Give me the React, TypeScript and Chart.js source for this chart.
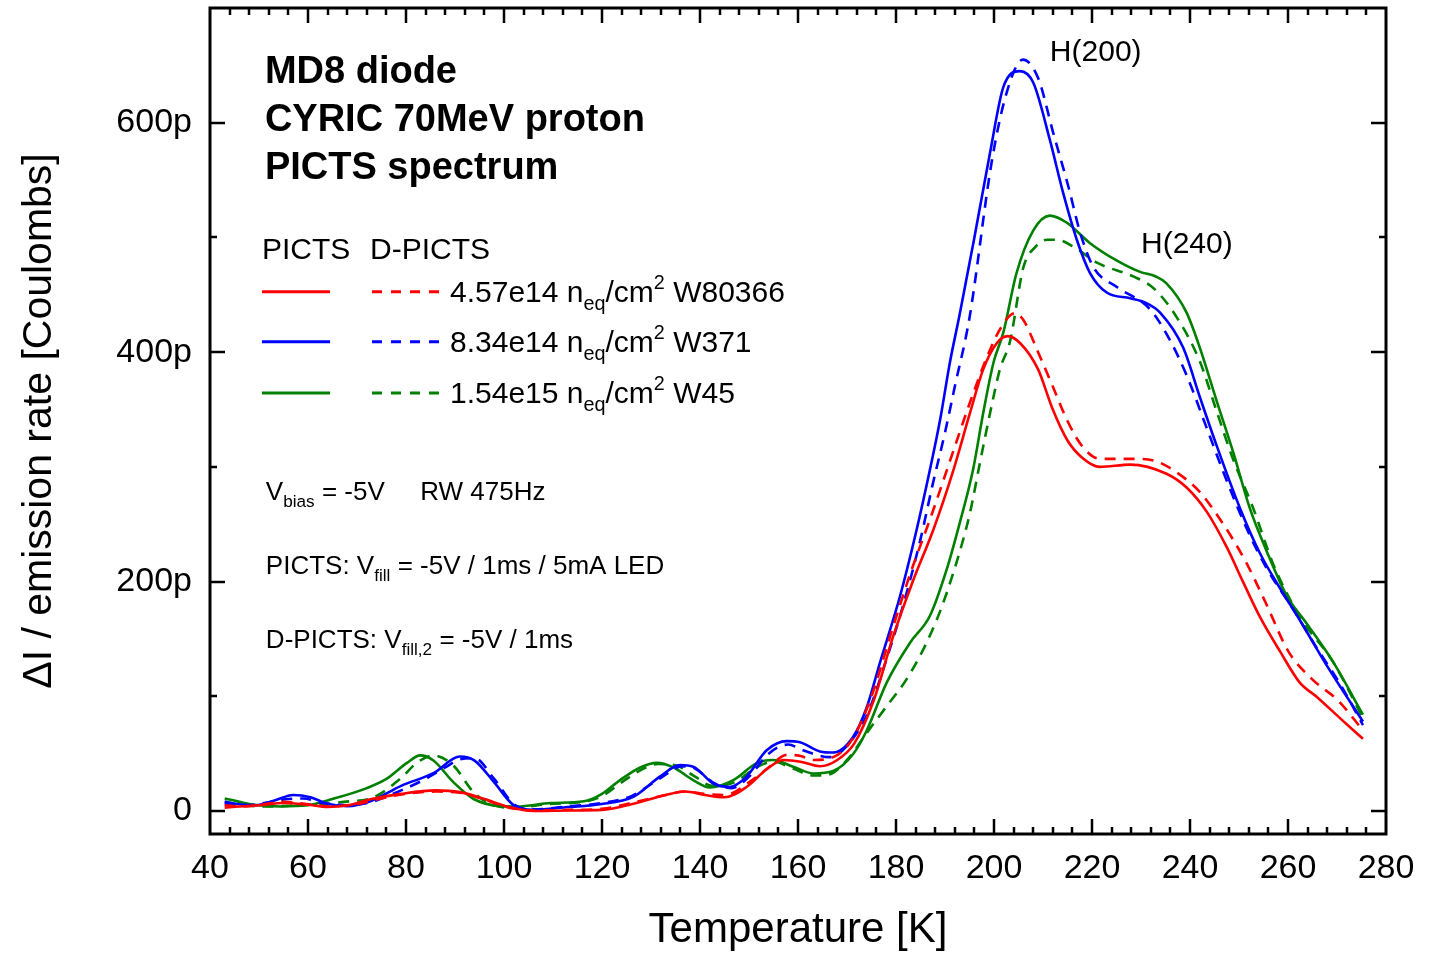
import React, { useEffect, useRef } from 'react';
import { Chart, registerables } from 'chart.js';

Chart.register(...registerables);

const FONT = '"Liberation Sans", Arial, Helvetica, sans-serif';

// ---- Data (temperature [K], signal [pC]) ----
const redSolidT = [43, 46, 50, 55, 60, 64, 68, 73, 79, 86, 91, 96, 101, 106, 113, 120, 126, 133, 137, 141, 145, 149.5, 153.5, 157, 160.5, 164.5, 168, 171.5, 175.5, 179.4, 183.5, 187.6, 191.7, 195.1, 197.8, 200.6, 202.8, 205.3, 209, 212, 215, 218, 221.6, 227.8, 235.2, 239.3, 243.4, 247.5, 250.8, 254.3, 258.4, 262.4, 265.9, 270.6, 275.3];
const redSolidV = [3, 4, 5, 7, 5.5, 3.5, 5, 10.5, 15, 18, 16.5, 10.5, 3.5, 0, 0.5, 1, 6, 14, 17, 14, 12, 21, 36, 44.5, 43, 39, 44.5, 59, 97, 152, 201, 245, 297, 347, 385, 408, 414, 408, 385, 350, 323, 308, 300, 302, 294, 282, 261, 230, 200, 169, 139, 112, 99.5, 81, 63];

const redDashT = [43, 47, 51, 55, 60, 65, 70, 75, 80, 86, 91, 96, 101, 106, 113, 120, 126, 133, 137, 141, 145, 151, 154, 157.7, 160.5, 163.1, 167.2, 171, 175, 179, 183, 187, 191, 195, 198.5, 201.5, 204.3, 206, 209, 212, 215, 218, 221.6, 228.4, 233, 237, 241.8, 246.5, 251.3, 255.4, 260.1, 264.9, 270.3, 275];
const redDashV = [5, 4, 6, 8, 6, 4, 6, 11, 15, 17, 16, 10, 3, 0.5, 1, 2, 7, 14, 17, 15, 14, 28, 38, 49, 48, 44.5, 47, 62, 100, 155, 208, 255, 305, 355, 395, 422, 434, 428, 400, 370, 340, 318, 307, 307, 305, 296, 279, 252, 218, 182, 139, 115, 96, 72];

const blueSolidT = [43, 46, 49, 53, 57, 60.5, 64, 68, 73, 79, 85.6, 91, 94, 98, 102, 106, 113, 119.6, 126.4, 131.8, 135.9, 138.6, 142.7, 146.1, 149.5, 153.6, 157.7, 160.4, 164.5, 167.2, 171.3, 174, 176.7, 180.8, 184.2, 186.9, 189, 191, 193, 196, 199.2, 201.9, 205.3, 208, 211.4, 214.1, 216.9, 219.6, 223, 227.8, 231, 233.9, 238.6, 242, 245.4, 250.2, 254.3, 258.4, 262.4, 267.9, 275.3];
const blueSolidV = [8, 6, 5, 9, 14, 12, 6.3, 4.3, 9, 22, 33, 47.5, 44, 25, 5, 1.2, 3.5, 6, 12.5, 30, 40, 38.7, 24, 21, 30, 53, 61, 60, 52, 51, 65, 90, 129, 187, 245, 297, 341, 391, 433, 500, 574, 631, 645, 635, 585, 539, 498, 469, 452, 447, 443, 434.5, 404, 361, 319, 264, 224.5, 194, 166.5, 127, 78];

const blueDashT = [43, 47, 51, 55, 59, 63, 68, 73, 79, 84, 88, 91, 94, 98, 102, 106, 113, 120, 126, 132, 136.5, 139, 143, 146.5, 150, 154, 158, 161, 166.5, 171, 174.5, 177.5, 181.5, 185, 187.5, 190, 192, 195, 199.5, 202.5, 205.9, 209, 212.1, 215.2, 217.6, 220.3, 225, 231.8, 235.2, 239.3, 243.4, 247.5, 251.6, 255.6, 261.1, 265.9, 270.6, 275.3];
const blueDashV = [6, 5, 7, 10, 11, 7, 5, 8, 18, 28, 38, 45, 46, 28, 6, 1.5, 4, 7, 13, 29, 39, 37, 24, 20, 30, 50, 58, 53, 47, 62, 88, 125, 180, 237, 285, 330, 370, 430, 565, 625, 655, 639, 591, 544, 504, 474, 457, 437.6, 416, 380, 334, 288, 246, 212, 175.6, 142, 111, 75];

const greenSolidT = [43, 46, 49, 54.4, 59.8, 65, 72, 76, 80.2, 82.9, 85.6, 89.7, 93.8, 99.3, 102.7, 109.5, 116.3, 120, 123.7, 127.8, 131.2, 134.6, 138.6, 142, 146.8, 151.5, 154.9, 159, 163.1, 167.2, 171.3, 174, 178.1, 182.9, 186.9, 190.3, 193, 195.7, 197.8, 199.9, 201.9, 204.6, 208, 211.4, 214.8, 219.6, 225, 229.8, 233, 235.2, 239.3, 242, 245.4, 248.8, 252.2, 255.6, 259.7, 263.8, 269.2, 275.3];
const greenSolidV = [11, 8, 5.5, 4, 5, 10.5, 20, 28, 42, 48.5, 44, 25, 10.5, 4.3, 4, 7, 8.5, 15, 27, 38, 42, 38, 27, 20.6, 27, 41.6, 44.5, 38.7, 32.8, 35, 50, 70, 112, 147, 170, 210, 251, 297, 347, 391, 417, 469, 506, 519, 513, 495, 480, 470, 466, 460, 434.5, 404, 358, 313, 264, 227, 188, 163.5, 130, 84];

const greenDashT = [43, 47, 52, 58, 63, 67.3, 73.4, 78.8, 82.2, 85.6, 89.7, 93.8, 97.9, 102, 109, 116, 120, 124, 128, 131.5, 135, 139, 142.5, 147, 151.5, 155, 159, 163, 165.9, 170, 174, 177.5, 182.9, 188.3, 192.3, 195.1, 197.1, 199.2, 201.2, 203.3, 206, 208.5, 210.8, 212.8, 216.2, 221, 228.4, 232.5, 237.2, 242, 245.4, 248.8, 252.9, 257, 262.4, 269.2, 275.3];
const greenDashV = [8, 5, 4, 5, 6, 8, 12, 28, 42, 48.5, 39.5, 16.5, 5, 3, 6, 8, 13, 25, 36, 41, 40, 30, 22, 25, 38, 43, 37, 31, 31.4, 44.5, 68, 88, 120, 166.6, 216, 260, 303, 347, 385, 410, 474, 492, 498, 498, 492, 478, 466, 456, 431, 392, 349, 306.6, 264, 215, 169.5, 130, 81];

// ---- Axis ticks ----
const xTickValues = [40, 60, 80, 100, 120, 140, 160, 180, 200, 220, 240, 260, 280];
const yTickValues = [0, 200, 400, 600];
const yTickLabels = ['0', '200p', '400p', '600p'];

// ---- Legend / annotation text ----
const seriesColors = ['#ff0000', '#0000ff', '#008000'];
const legendFluences = ['4.57e14', '8.34e14', '1.54e15'];
const legendWafers = ['W80366', 'W371', 'W45'];
const legendRowValues = [452.6, 409, 364.5];
const titleLines = ['MD8 diode', 'CYRIC 70MeV proton', 'PICTS spectrum'];
const titleLineValues = [645.3, 603.5, 561.6];

type Part = [string, 'n' | 'sub' | 'sup'];

function drawRich(ctx: CanvasRenderingContext2D, x: number, y: number, parts: Part[], size: number, bold = false, subScale = 0.66) {
  let cx = x;
  const yc = y + 2;
  ctx.textBaseline = 'middle';
  ctx.textAlign = 'left';
  for (const [txt, kind] of parts) {
    const s = kind === 'n' ? size : size * subScale;
    ctx.font = `${bold ? 'bold ' : ''}${s}px ${FONT}`;
    let yy = yc;
    if (kind === 'sub') yy = yc + size * 0.36;
    if (kind === 'sup') yy = yc - size * 0.33;
    ctx.fillText(txt, cx, yy);
    cx += ctx.measureText(txt).width;
  }
  return cx;
}

const framePlugin = {
  id: 'framePlugin',
  afterDraw(chart: any) {
    const { ctx, chartArea: a, scales } = chart;
    const xs = scales.x;
    const ys = scales.y;
    ctx.save();
    ctx.strokeStyle = '#000';
    ctx.lineWidth = 3;
    ctx.strokeRect(a.left, a.top, a.right - a.left, a.bottom - a.top);
    ctx.lineWidth = 2.5;
    ctx.beginPath();
    for (let t = 44; t < 280; t += 4) {
      const px = Math.round(xs.getPixelForValue(t));
      const len = t % 20 === 0 ? 15 : 7;
      ctx.moveTo(px, a.bottom);
      ctx.lineTo(px, a.bottom - len);
      ctx.moveTo(px, a.top);
      ctx.lineTo(px, a.top + len);
    }
    for (let v = 0; v <= 600; v += 100) {
      const py = Math.round(ys.getPixelForValue(v));
      const len = v % 200 === 0 ? 15 : 7;
      ctx.moveTo(a.left, py);
      ctx.lineTo(a.left + len, py);
      ctx.moveTo(a.right, py);
      ctx.lineTo(a.right - len, py);
    }
    ctx.stroke();

    const X = (t: number) => xs.getPixelForValue(t);
    const Y = (v: number) => ys.getPixelForValue(v);
    ctx.fillStyle = '#000';

    // Title block
    titleLines.forEach((line, i) => {
      drawRich(ctx, X(51.2), Y(titleLineValues[i]), [[line, 'n']], 38, true);
    });

    // Legend header
    drawRich(ctx, X(50.6), Y(490.1), [['PICTS', 'n']], 30);
    drawRich(ctx, X(72.65), Y(490.1), [['D-PICTS', 'n']], 30);

    // Legend rows
    legendFluences.forEach((fl, i) => {
      const yy = Y(legendRowValues[i]);
      ctx.strokeStyle = seriesColors[i];
      ctx.lineWidth = 3;
      ctx.setLineDash([]);
      ctx.beginPath();
      ctx.moveTo(X(50.6), yy);
      ctx.lineTo(X(64.5), yy);
      ctx.stroke();
      ctx.setLineDash([10, 9]);
      ctx.beginPath();
      ctx.moveTo(X(73.06), yy);
      ctx.lineTo(X(87.35), yy);
      ctx.stroke();
      ctx.setLineDash([]);
      ctx.fillStyle = '#000';
      drawRich(ctx, X(88.98), yy, [[fl + ' n', 'n'], ['eq', 'sub'], ['/cm', 'n'], ['2', 'sup'], [' ' + legendWafers[i], 'n']], 30);
    });

    // Measurement conditions
    drawRich(ctx, X(51.4), Y(279), [['V', 'n'], ['bias', 'sub'], [' = -5V', 'n']], 26);
    drawRich(ctx, X(82.9), Y(279), [['RW 475Hz', 'n']], 26);
    drawRich(ctx, X(51.4), Y(214.5), [['PICTS: V', 'n'], ['fill', 'sub'], [' = -5V / 1ms / 5mA LED', 'n']], 26);
    drawRich(ctx, X(51.4), Y(150), [['D-PICTS: V', 'n'], ['fill,2', 'sub'], [' = -5V / 1ms', 'n']], 26);

    // Peak labels
    drawRich(ctx, X(211.4), Y(662.8), [['H(200)', 'n']], 30);
    drawRich(ctx, X(230.0), Y(495.8), [['H(240)', 'n']], 30);
    ctx.restore();
  },
};

const toPts = (t: number[], v: number[]) => t.map((x, i) => ({ x, y: v[i] }));

function makeSet(t: number[], v: number[], color: string, dashed: boolean) {
  return {
    data: toPts(t, v),
    borderColor: color,
    backgroundColor: color,
    borderWidth: 2.6,
    borderDash: dashed ? [11, 8] : [],
    pointRadius: 0,
    fill: false,
    cubicInterpolationMode: 'monotone' as const,
  };
}

const zeroPad = (s: any) => {
  s.paddingTop = 0;
  s.paddingBottom = 0;
  s.paddingLeft = 0;
  s.paddingRight = 0;
};

export default function App() {
  const ref = useRef<HTMLCanvasElement | null>(null);
  useEffect(() => {
    if (!ref.current) return;
    const chart = new Chart(ref.current, {
      type: 'line',
      data: {
        datasets: [
          makeSet(redSolidT, redSolidV, seriesColors[0], false),
          makeSet(redDashT, redDashV, seriesColors[0], true),
          makeSet(blueSolidT, blueSolidV, seriesColors[1], false),
          makeSet(blueDashT, blueDashV, seriesColors[1], true),
          makeSet(greenSolidT, greenSolidV, seriesColors[2], false),
          makeSet(greenDashT, greenDashV, seriesColors[2], true),
        ],
      },
      options: {
        animation: false,
        responsive: false,
        devicePixelRatio: 1,
        layout: { padding: { top: 8, right: 49, left: 0, bottom: 0 } },
        plugins: { legend: { display: false }, tooltip: { enabled: false } },
        scales: {
          x: {
            type: 'linear',
            min: 40,
            max: 280,
            grid: { display: false, drawTicks: false },
            border: { display: false },
            afterBuildTicks: (s: any) => {
              s.ticks = xTickValues.map((v) => ({ value: v }));
            },
            afterFit: (s: any) => {
              s.height = 122;
              zeroPad(s);
            },
            ticks: { font: { size: 34, family: FONT }, color: '#000', padding: 14, maxRotation: 0, autoSkip: false },
            title: { display: true, text: 'Temperature [K]', font: { size: 42, family: FONT }, color: '#000', padding: { top: 0, bottom: 0 } },
          },
          y: {
            type: 'linear',
            min: -20,
            max: 700,
            grid: { display: false, drawTicks: false },
            border: { display: false },
            afterBuildTicks: (s: any) => {
              s.ticks = yTickValues.map((v) => ({ value: v }));
            },
            afterFit: (s: any) => {
              s.width = 210;
              zeroPad(s);
            },
            ticks: {
              font: { size: 34, family: FONT },
              color: '#000',
              padding: 18,
              autoSkip: false,
              callback: (v: any) => {
                const i = yTickValues.indexOf(Number(v));
                return i >= 0 ? yTickLabels[i] : '';
              },
            },
            title: { display: true, text: 'ΔI / emission rate [Coulombs]', font: { size: 41, family: FONT }, color: '#000', padding: { top: 15, bottom: 0 } },
          },
        },
      },
      plugins: [framePlugin],
    });
    return () => chart.destroy();
  }, []);
  return (
    <div style={{ position: 'fixed', left: 0, top: 0, width: 1435, height: 956, background: '#fff' }}>
      <canvas ref={ref} width={1435} height={956} />
    </div>
  );
}
